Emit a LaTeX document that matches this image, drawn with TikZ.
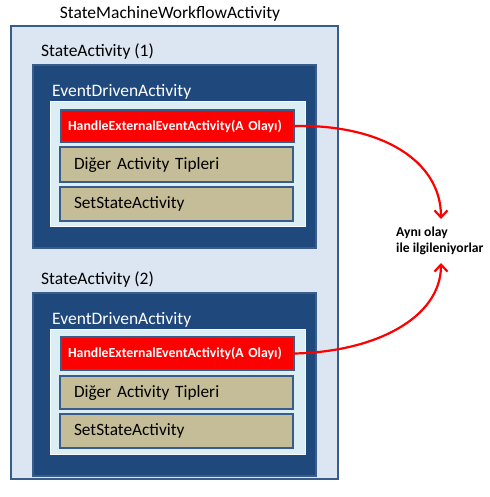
\documentclass[tikz,border=0pt]{standalone}
\usepackage{fontspec}
\setmainfont{Carlito}
\usetikzlibrary{arrows.meta}

\definecolor{machinefill}{HTML}{DCE6F2}
\definecolor{boxline}{HTML}{385D8A}
\definecolor{statefill}{HTML}{1F497D}
\definecolor{eventfill}{HTML}{DAEEF3}
\definecolor{tanfill}{HTML}{C4BD97}

\tikzset{
  box/.style={draw=boxline,line width=1.5pt,anchor=north west,inner sep=0pt,outer sep=0pt},
  statebox/.style={box,fill=statefill,minimum width=283pt,minimum height=183pt},
  eventbox/.style={anchor=north west,fill=eventfill,draw=white!85!eventfill,line width=1pt,minimum width=255pt,minimum height=125pt,inner sep=0pt},
  handlebox/.style={box,fill=red,minimum width=233pt,minimum height=32pt,text=white,font=\fontsize{13.8}{15}\selectfont\bfseries,align=left,text width=219pt},
  tanbox/.style={box,fill=tanfill,minimum width=233pt,minimum height=34pt,font=\fontsize{17.3}{19}\selectfont,align=left,text width=205pt},
  lbl/.style={anchor=west,inner sep=0pt,font=\fontsize{17.5}{19}\selectfont},
  same/.style={red,line width=2.2pt,-{Straight Barb[length=7pt,width=13pt]}}
}

\begin{document}
\begin{tikzpicture}[x=1pt,y=-1pt]
  \useasboundingbox (0,0) rectangle (489,497);

  \node[box,fill=machinefill,minimum width=327pt,minimum height=453pt] (machine) at (11,26) {};
  \node[inner sep=0pt,font=\fontsize{17.5}{19}\selectfont] (title) at (170,14) {StateMachineWorkflowActivity};

  % first state
  \node[lbl] (s1label) at (41,52) {StateActivity (1)};
  \node[statebox] (s1) at (33,65) {};
  \node[lbl,text=white] (e1label) at (52,92) {EventDrivenActivity};
  \node[eventbox] (e1) at (50,101) {};
  \node[handlebox] (h1) at (61,110) {HandleExternalEventActivity(A Olayı)};
  \node[tanbox,minimum height=35pt] (d1) at (60,147) {Diğer Activity Tipleri};
  \node[tanbox] (t1) at (60,187) {SetStateActivity};

  % second state
  \node[lbl] (s2label) at (41,280) {StateActivity (2)};
  \node[statebox] (s2) at (33,293) {};
  \node[lbl,text=white] (e2label) at (52,320) {EventDrivenActivity};
  \node[eventbox] (e2) at (50,329) {};
  \node[handlebox,minimum height=33pt] (h2) at (61,337) {HandleExternalEventActivity(A Olayı)};
  \node[tanbox,minimum height=33pt] (d2) at (60,376) {Diğer Activity Tipleri};
  \node[tanbox] (t2) at (60,414) {SetStateActivity};

  \node[align=left,inner sep=0pt,font=\fontsize{13.6}{16}\selectfont\bfseries,anchor=west] (note) at (396,241) {Aynı olay\\ile ilgileniyorlar};
  \coordinate (top) at (441,219);
  \coordinate (bottom) at (441,263);

  \draw[same] (h1.east) .. controls (380,124) and (441,160) .. (top);
  \draw[same] (h2.east) .. controls (375,352) and (441,318) .. (bottom);

\end{tikzpicture}
\end{document}
